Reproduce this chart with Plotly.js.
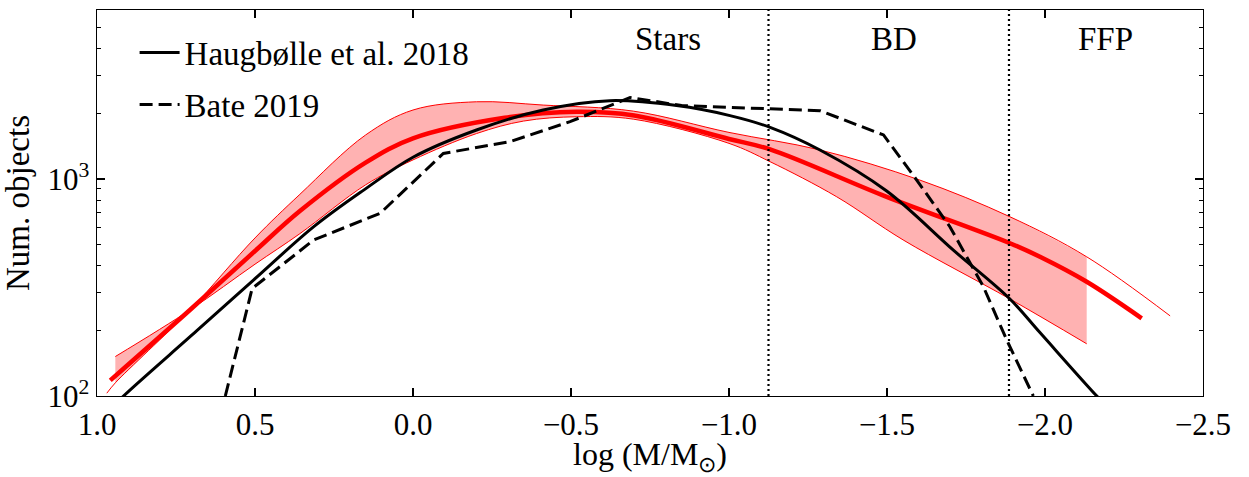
<!DOCTYPE html>
<html>
<head>
<meta charset="utf-8">
<script src="https://cdn.plot.ly/plotly-3.0.1.min.js"></script>
<style>html,body{margin:0;padding:0;background:#fff;}#chart{width:1249px;height:477px;}</style>
</head>
<body>
<div id="chart"></div>
<script>
// Haugbølle et al. 2018 (solid black)
const haugX = [0.93, 0.916, 0.684, 0.504, 0.314, 0.156, 0.0, -0.201, -0.412, -0.623, -0.834, -1.003, -1.130, -1.288, -1.499, -1.710, -1.889, -1.984, -2.164, -2.18];
const haugY = [95, 100, 200, 343, 603, 889, 1260, 1683, 2080, 2296, 2180, 1960, 1730, 1360, 880, 470, 280, 196, 100, 95];

// Bate 2019 (dashed black)
const bateX = [0.594, 0.509, 0.314, 0.104, -0.096, -0.307, -0.497, -0.687, -0.85, -1.119, -1.288, -1.489, -1.594, -1.699, -1.805, -1.879, -1.963];
const bateY = [100, 313, 524, 695, 1312, 1487, 1838, 2376, 2180, 2112, 2065, 1596, 989, 603, 319, 181, 100];

// Red fit (thick)
const fitX = [0.958, 0.706, 0.5, 0.358, 0.15, 0.0, -0.29, -0.518, -0.70, -1.0, -1.13, -1.499, -1.889, -1.984, -2.132, -2.306];
const fitY = [118, 249, 466, 712, 1190, 1540, 1915, 2042, 1963, 1530, 1370, 828, 506, 438, 336, 228];

// Red band edge B (upper on the right)
const edgeBX = [0.969, 0.942, 0.706, 0.5, 0.358, 0.15, 0.0, -0.201, -0.412, -0.697, -1.0, -1.288, -1.604, -1.889, -2.132, -2.396];
const edgeBY = [103, 115, 249, 535, 850, 1596, 2080, 2270, 2192, 2056, 1640, 1361, 989, 670, 438, 234];

// Red band edge A (lower on the right)
const edgeAX = [0.942, 0.706, 0.5, 0.358, 0.15, 0.0, -0.201, -0.35, -0.518, -0.697, -1.0, -1.13, -1.341, -1.551, -1.889, -2.132];
const edgeAY = [152, 249, 405, 560, 940, 1225, 1620, 1850, 1937, 1888, 1460, 1202, 828, 524, 280, 174];

// Band fill limits
const bandStart = 0.942, bandEnd = -2.132;

// Region boundaries and labels
const boundaryX = [-1.125, -1.886];
const regionLabels = ["Stars", "BD", "FFP"];
const regionLabelX = [-0.807, -1.522, -2.19];

// Axis ticks
const xTickVals = [1.0, 0.5, 0.0, -0.5, -1.0, -1.5, -2.0, -2.5];
const xTickText = ["1.0", "0.5", "0.0", "\u22120.5", "\u22121.0", "\u22121.5", "\u22122.0", "\u22122.5"];
const yTickVals = [100, 1000];
const yTickText = ["10<sup>2</sup>", "10<sup>3</sup>"];
const yMinorVals = [200, 300, 400, 500, 600, 700, 800, 900, 2000, 3000, 4000, 5000, 6000];

const FONT = 'Liberation Serif';
const RED = "#ff0000";
const SM = 1.0;

function inBand(xs, ys) {
  const ox = [], oy = [];
  for (let i = 0; i < xs.length; i++) {
    if (xs[i] <= bandStart && xs[i] >= bandEnd) { ox.push(xs[i]); oy.push(ys[i]); }
  }
  return [ox, oy];
}
const [bandAX, bandAY] = inBand(edgeAX, edgeAY);
const [bandBX, bandBY] = inBand(edgeBX, edgeBY);

const traces = [
  {x: bandAX, y: bandAY, type: 'scatter', mode: 'lines', line: {width: 0, color: 'rgba(0,0,0,0)', shape: 'spline', smoothing: SM},
   showlegend: false, hoverinfo: 'skip'},
  {x: bandBX, y: bandBY, type: 'scatter', mode: 'lines', fill: 'tonexty', fillcolor: 'rgba(255,0,0,0.3)',
   line: {width: 0, color: 'rgba(0,0,0,0)', shape: 'spline', smoothing: SM}, showlegend: false, hoverinfo: 'skip'},
  {x: edgeAX, y: edgeAY, type: 'scatter', mode: 'lines', line: {color: RED, width: 1, shape: 'spline', smoothing: SM}, showlegend: false},
  {x: edgeBX, y: edgeBY, type: 'scatter', mode: 'lines', line: {color: RED, width: 1, shape: 'spline', smoothing: SM}, showlegend: false},
  {x: fitX, y: fitY, type: 'scatter', mode: 'lines', line: {color: RED, width: 4.5, shape: 'spline', smoothing: SM}, showlegend: false},
  {x: haugX, y: haugY, type: 'scatter', mode: 'lines', name: 'Haugbølle et al. 2018', legendgroup: 'a',
   line: {color: 'black', width: 3, shape: 'spline', smoothing: SM}},
  {x: bateX, y: bateY, type: 'scatter', mode: 'lines', name: 'Bate 2019', legendgroup: 'b',
   line: {color: 'black', width: 3, dash: '13px,6px'}}
];

const shapes = boundaryX.map(v => ({type: 'line', xref: 'x', yref: 'paper', x0: v, x1: v, y0: 0, y1: 1,
  line: {color: 'black', width: 2.2, dash: '2px,3px'}, layer: 'above'}));

const annotations = regionLabels.map((t, i) => ({text: t, x: regionLabelX[i], xref: 'x', y: 0.925, yref: 'paper',
  showarrow: false, xanchor: 'center', yanchor: 'middle', font: {family: FONT, size: 33, color: 'black'}}));

const layout = {
  width: 1249, height: 477,
  margin: {l: 97, r: 46, t: 10, b: 81},
  paper_bgcolor: 'white', plot_bgcolor: 'white',
  font: {family: FONT, size: 31, color: 'black'},
  showlegend: true,
  legend: {x: 0.034, y: 0.962, xanchor: 'left', yanchor: 'top', bgcolor: 'rgba(0,0,0,0)',
    font: {family: FONT, size: 33, color: 'black'}, tracegroupgap: 6, itemwidth: 40},
  xaxis: {range: [1.0, -2.5], tickvals: xTickVals, ticktext: xTickText, ticks: 'inside', ticklen: 8,
    tickwidth: 1.2, tickcolor: 'black', showline: true, linecolor: 'black', linewidth: 1.4, mirror: 'ticks',
    showgrid: false, zeroline: false, tickfont: {family: FONT, size: 31},
    title: {text: 'log (M/M<sub>⊙</sub>)', font: {family: FONT, size: 32}, standoff: 8}},
  yaxis: {type: 'log', range: [2, 3.779], tickvals: yTickVals, ticktext: yTickText, ticks: 'inside', ticklen: 8,
    tickwidth: 1.2, tickcolor: 'black', showline: true, linecolor: 'black', linewidth: 1.4, mirror: 'ticks',
    showgrid: false, zeroline: false, tickfont: {family: FONT, size: 31},
    minor: {tickvals: yMinorVals, ticks: 'inside', ticklen: 4, tickwidth: 1, tickcolor: 'black', showgrid: false},
    title: {text: 'Num. objects', font: {family: FONT, size: 33}, standoff: 10}},
  shapes: shapes,
  annotations: annotations
};

Plotly.newPlot('chart', traces, layout, {displayModeBar: false, staticPlot: true});
</script>
</body>
</html>
